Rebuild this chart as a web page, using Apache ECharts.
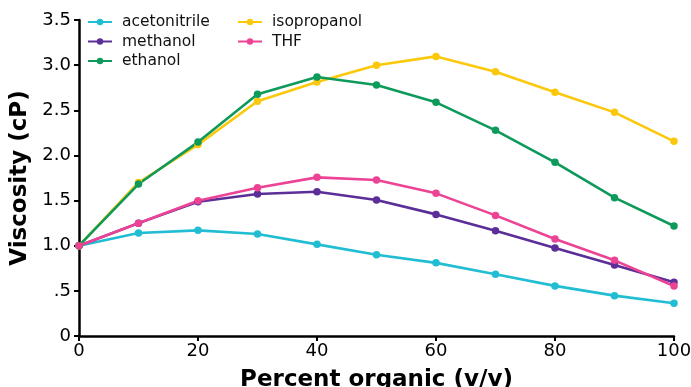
<!DOCTYPE html>
<html>
<head>
<meta charset="utf-8">
<script src="https://cdn.jsdelivr.net/npm/echarts@6/dist/echarts.min.js"></script>
<style>
    html, body { margin: 0; padding: 0; background: #fff; }
    #chart { width: 691px; height: 387px; }
</style>
</head>
<body>
<div id="chart"></div>
<script>
// percent organic (v/v)
const percent = [0, 10, 20, 30, 40, 50, 60, 70, 80, 90, 100];

// viscosity (cP)
const acetonitrile = [1.0, 1.14, 1.17, 1.13, 1.015, 0.90, 0.81, 0.685, 0.555, 0.447, 0.363];
const methanol = [1.0, 1.25, 1.487, 1.573, 1.598, 1.506, 1.347, 1.166, 0.975, 0.786, 0.594];
const ethanol = [1.0, 1.683, 2.148, 2.677, 2.868, 2.78, 2.588, 2.278, 1.924, 1.532, 1.218];
const isopropanol = [1.0, 1.70, 2.12, 2.60, 2.813, 2.998, 3.097, 2.927, 2.699, 2.477, 2.156];
const thf = [1.0, 1.248, 1.498, 1.643, 1.757, 1.728, 1.58, 1.336, 1.074, 0.838, 0.554];

const font = 'DejaVu Sans';

const chart = echarts.init(document.getElementById('chart'));

function makeSeries(name, values, color) {
    return {
        name: name,
        type: 'line',
        data: values.map((v, i) => [percent[i], v]),
        symbol: 'circle',
        symbolSize: 7.5,
        showSymbol: true,
        lineStyle: { color: color, width: 2.6 },
        itemStyle: { color: color },
        emphasis: { disabled: true },
        animation: false
    };
}

const legendBase = {
    orient: 'vertical',
    itemWidth: 24,
    itemHeight: 8,
    itemGap: 3.5,
    padding: 0,
    textStyle: { fontFamily: font, fontSize: 15.5, color: '#111', padding: [0, 0, 0, 5] }
};

const option = {
    backgroundColor: '#fff',
    animation: false,
    grid: { left: 79, right: 17, top: 20, bottom: 51, outerBoundsMode: 'none' },
    legend: [
        Object.assign({}, legendBase, { left: 87, top: 14, data: ['acetonitrile', 'methanol', 'ethanol'] }),
        Object.assign({}, legendBase, { left: 237, top: 14, data: ['isopropanol', 'THF'] })
    ],
    xAxis: {
        type: 'value',
        min: 0,
        max: 100,
        interval: 20,
        name: 'Percent organic (v/v)',
        nameLocation: 'middle',
        nameGap: 33,
        nameTextStyle: { fontFamily: font, fontSize: 23, fontWeight: 'bold', color: '#000' },
        axisLine: { show: true, lineStyle: { color: '#000', width: 2.5 } },
        axisTick: { show: true, length: 5, lineStyle: { color: '#000', width: 2 } },
        axisLabel: { fontFamily: font, fontSize: 18, color: '#000', margin: 6 },
        splitLine: { show: false }
    },
    yAxis: {
        type: 'value',
        min: 0,
        max: 3.5,
        interval: 0.5,
        name: 'Viscosity (cP)',
        nameLocation: 'middle',
        nameGap: 43,
        nameTextStyle: { fontFamily: font, fontSize: 23, fontWeight: 'bold', color: '#000' },
        axisLine: { show: true, lineStyle: { color: '#000', width: 2.5 } },
        axisTick: { show: true, length: 5, lineStyle: { color: '#000', width: 2 } },
        axisLabel: {
            fontFamily: font, fontSize: 18, color: '#000', margin: 8,
            formatter: v => v === 0 ? '0' : (v === 0.5 ? '.5' : v.toFixed(1))
        },
        splitLine: { show: false }
    },
    series: [
        makeSeries('acetonitrile', acetonitrile, '#21bdd2'),
        makeSeries('methanol', methanol, '#5b2e98'),
        makeSeries('isopropanol', isopropanol, '#fbc80c'),
        makeSeries('ethanol', ethanol, '#0d9a5b'),
        makeSeries('THF', thf, '#ec4395')
    ]
};

chart.setOption(option);
</script>
</body>
</html>
